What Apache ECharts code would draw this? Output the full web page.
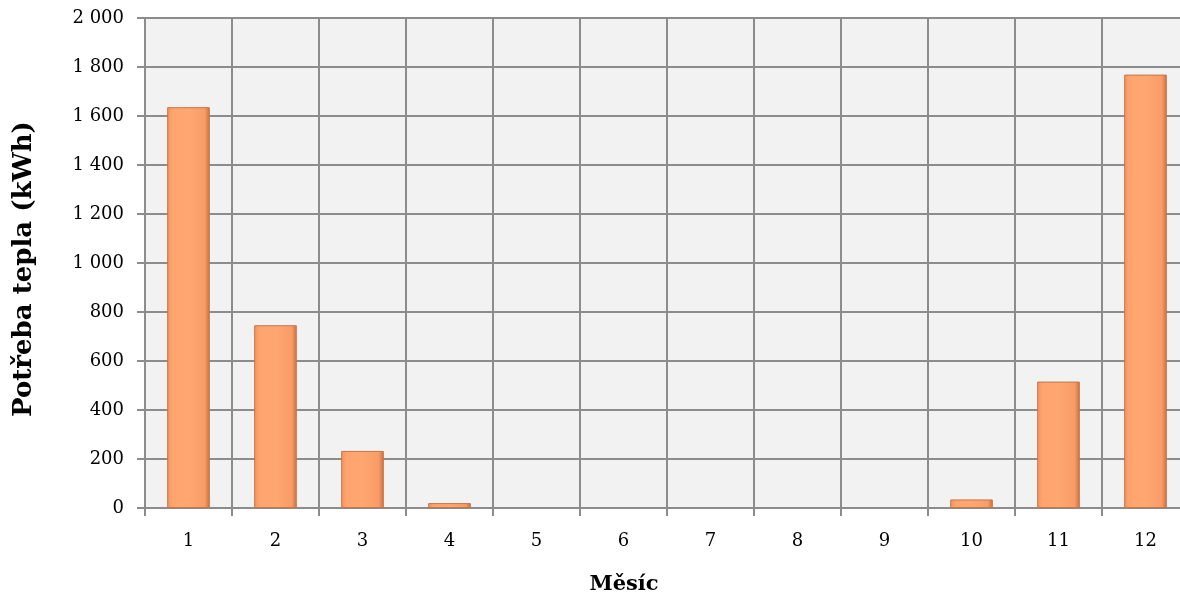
<!DOCTYPE html>
<html><head><meta charset="utf-8">
<script src="https://cdn.jsdelivr.net/npm/echarts@6/dist/echarts.min.js"></script>
<style>html,body{margin:0;padding:0;background:#fff}#c{width:1180px;height:596px}</style>
</head><body><div id="c"></div>
<script>
const months = ['1','2','3','4','5','6','7','8','9','10','11','12'];
const heatDemand = [1636, 746, 233, 20, 0, 0, 0, 0, 0, 35, 516, 1769];
const yTicks = {min: 0, max: 2000, interval: 200};
const yTitle = 'Potřeba tepla (kWh)';
const xTitle = 'Měsíc';

const fontFam = '"DejaVu Serif","Liberation Serif",serif';
const chart = echarts.init(document.getElementById('c'));
chart.setOption({
  animation: false,
  grid: {left: 145, width: 1044, top: 18, height: 490, containLabel: false,
         outerBoundsMode: 'none',
         show: true, backgroundColor: '#f2f2f2', borderWidth: 0},
  xAxis: {
    type: 'category', data: months, boundaryGap: true,
    axisLine: {show: true, lineStyle: {color: '#8c8c8c', width: 2}},
    axisTick: {show: true, length: 8, lineStyle: {color: '#8c8c8c', width: 2}},
    splitLine: {show: true, lineStyle: {color: '#8c8c8c', width: 2}},
    axisLabel: {color: '#000', fontFamily: fontFam, fontSize: 18, margin: 24}
  },
  yAxis: {
    type: 'value', min: yTicks.min, max: yTicks.max, interval: yTicks.interval,
    axisLine: {show: true, lineStyle: {color: '#8c8c8c', width: 2}},
    axisTick: {show: true, length: 8, lineStyle: {color: '#8c8c8c', width: 2}},
    splitLine: {show: true, lineStyle: {color: '#8c8c8c', width: 2}},
    axisLabel: {color: '#000', fontFamily: fontFam, fontSize: 18, margin: 21,
      formatter: v => String(v).replace(/\B(?=(\d{3})+(?!\d))/g, ' ')}
  },
  graphic: [
    {type: 'text', x: 624, y: 585,
     style: {text: xTitle, font: 'bold 21px ' + fontFam, fill: '#000',
             align: 'center', verticalAlign: 'middle'}},
    {type: 'text', rotation: Math.PI / 2, x: 24, y: 269,
     style: {text: yTitle, font: 'bold 26px ' + fontFam, fill: '#000',
             align: 'center', verticalAlign: 'middle'}}
  ],
  series: [{
    type: 'bar', barWidth: '49%',
    data: heatDemand.map(v => v === 0 ? {value: v, itemStyle: {borderWidth: 0, opacity: 0}} : v),
    itemStyle: {
      color: {type: 'linear', x: 0, y: 0, x2: 1, y2: 0, colorStops: [
        {offset: 0, color: '#f0915e'}, {offset: 0.12, color: '#ffa46f'},
        {offset: 0.5, color: '#ffa770'}, {offset: 0.88, color: '#f99c67'},
        {offset: 1, color: '#c8703f'}]},
      borderColor: '#c77447', borderWidth: 1
    }
  }]
});
</script></body></html>
